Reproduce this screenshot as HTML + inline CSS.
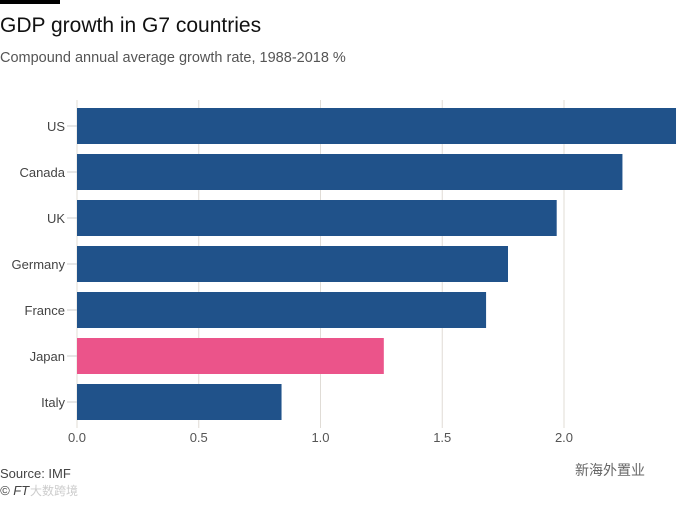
<!DOCTYPE html>
<html><head><meta charset="utf-8"><style>
body{margin:0;background:#fff;width:678px;height:501px;overflow:hidden;font-family:"Liberation Sans","Noto Sans CJK SC",sans-serif;}
</style></head><body>
<svg width="678" height="501">
<rect x="0" y="0" width="60" height="4" fill="#000"/>
<text x="0" y="32" font-size="21" fill="#111">GDP growth in G7 countries</text>
<text x="0" y="62" font-size="14.5" fill="#555">Compound annual average growth rate, 1988-2018 %</text>
<g id="grid"></g><g id="bars"></g><g id="labels"></g>
<text x="0" y="478" font-size="13" fill="#444">Source: IMF</text>
<text x="0" y="495" font-size="13" fill="#444" font-style="italic">© FT</text>
<text x="30" y="495" font-size="12" fill="#ccc">大数跨境</text>
<text x="575" y="475" font-size="14" fill="#666">新海外置业</text>
</svg>
<script>
const categories=["US","Canada","UK","Germany","France","Japan","Italy"];
const values=[2.46,2.24,1.97,1.77,1.68,1.26,0.84];
const highlight=["Japan"];
const ticks=[0,0.5,1,1.5,2];
const tickLabels=["0.0","0.5","1.0","1.5","2.0"];
const NS="http://www.w3.org/2000/svg";
const x0=77,pxPer=243.5,y0=108,step=46,bh=36;
const xs=v=>x0+v*pxPer, ys=i=>y0+i*step;
function mk(t,a,p){const e=document.createElementNS(NS,t);for(const k in a)e.setAttribute(k,a[k]);p.appendChild(e);return e;}
const g=document.getElementById('grid'),b=document.getElementById('bars'),l=document.getElementById('labels');
ticks.forEach((t,i)=>{
 const ln=mk('line',{x1:xs(t),x2:xs(t),y1:100,y2:428,stroke:'#e0dcd6','stroke-width':1},g);
 
 
 const tx=mk('text',{x:xs(t),y:442,'font-size':13,fill:'#555','text-anchor':'middle'},l);
 tx.textContent=tickLabels[i];
 
 
});
categories.forEach((c,i)=>{
 const r=mk('rect',{x:x0,y:ys(i),width:xs(values[i])-x0,height:bh,fill:highlight.includes(c)?'#eb548a':'#20528a'},b);
 
 
 const tk=mk('line',{x1:67,x2:77,y1:ys(i)+bh/2,y2:ys(i)+bh/2,stroke:'#ccc'},l);
 
 
 const tx=mk('text',{x:65,y:ys(i)+bh/2+5,'font-size':13,fill:'#444','text-anchor':'end'},l);
 tx.textContent=c;
 
 
});
</script>
</body></html>
